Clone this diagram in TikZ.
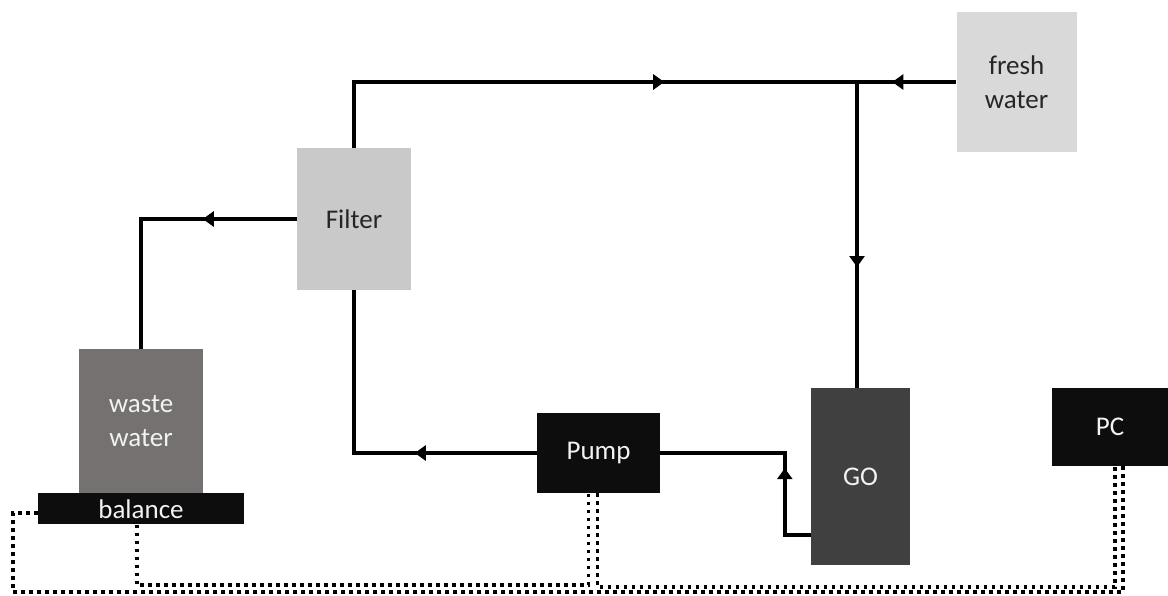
\documentclass[tikz,border=0pt]{standalone}
\usepackage{fontspec}
\setmainfont{Carlito}
\usetikzlibrary{arrows.meta, positioning, decorations.markings}
\definecolor{freshgrey}{HTML}{D9D9D9}
\definecolor{filtergrey}{HTML}{C9C9C9}
\definecolor{wastegrey}{HTML}{767171}
\definecolor{gogrey}{HTML}{404040}
\definecolor{boxblack}{HTML}{0D0D0D}
\definecolor{darktext}{HTML}{262626}
\definecolor{lighttext}{HTML}{F2F2F2}

\begin{document}
\begin{tikzpicture}[
    x=1pt, y=-1pt,
    every node/.style={font=\fontsize{27}{34}\selectfont},
    unit/.style={inner sep=0pt, align=center},
    lightbox/.style={unit, fill=freshgrey, text=darktext},
    darkbox/.style={unit, fill=boxblack, text=lighttext},
    flowline/.style={line width=4pt, postaction={decorate},
      decoration={markings, mark=at position #1 with {\arrow{Triangle[length=11pt,width=15pt]}}}},
    signalline/.style={line width=3.5pt, dash pattern=on 3.5pt off 4.5pt}
  ]
  \useasboundingbox (0,0) rectangle (1168,595);
  % units
  \node[lightbox, minimum width=120pt, minimum height=140pt] (fresh) at (1016.5,82) {fresh\\water};
  \node[lightbox, fill=filtergrey, minimum width=114pt, minimum height=142pt] (filter) at (354,219) {Filter};
  \node[unit, fill=wastegrey, text=lighttext, minimum width=124pt, minimum height=144pt] (waste) at (141,421) {waste\\water};
  \node[darkbox, minimum width=206pt, minimum height=31pt, below=0pt of waste] (balance) {balance};
  \node[darkbox, minimum width=123pt, minimum height=80pt] (pump) at (598.5,453) {Pump};
  \node[unit, fill=gogrey, text=lighttext, minimum width=99pt, minimum height=177pt] (go) at (860.5,476.5) {GO};
  \node[darkbox, minimum width=116pt, minimum height=78pt] (pc) at (1110,427) {PC};
  \coordinate (junc) at (857,82);
  % water flow
  \draw[flowline=376pt] (filter.north) |- (junc);
  \draw[flowline=64pt] (fresh.west) -- (junc);
  \draw[flowline=185pt] (junc) -- (junc |- go.north);
  \draw[flowline=94pt] (filter.west) -| (waste.north);
  \draw[flowline=122pt] (pump.west) -| (filter.south);
  \draw[flowline=93pt] ([yshift=30pt]go.south west) -- ++(-26,0) |- (pump.east);
  % signals
  \draw[signalline] ([yshift=-4pt]balance.west) -| (13,592) -| ([xshift=13pt]pc.south);
  \draw[signalline] ([xshift=-4pt]balance.south) |- ([xshift=-10pt,yshift=-92pt]pump.south) -- ([xshift=-10pt]pump.south);
  \draw[signalline] ([xshift=-1pt]pump.south) |- ([xshift=5pt,yshift=-121pt]pc.south) -- ([xshift=5pt]pc.south);
\end{tikzpicture}
\end{document}
